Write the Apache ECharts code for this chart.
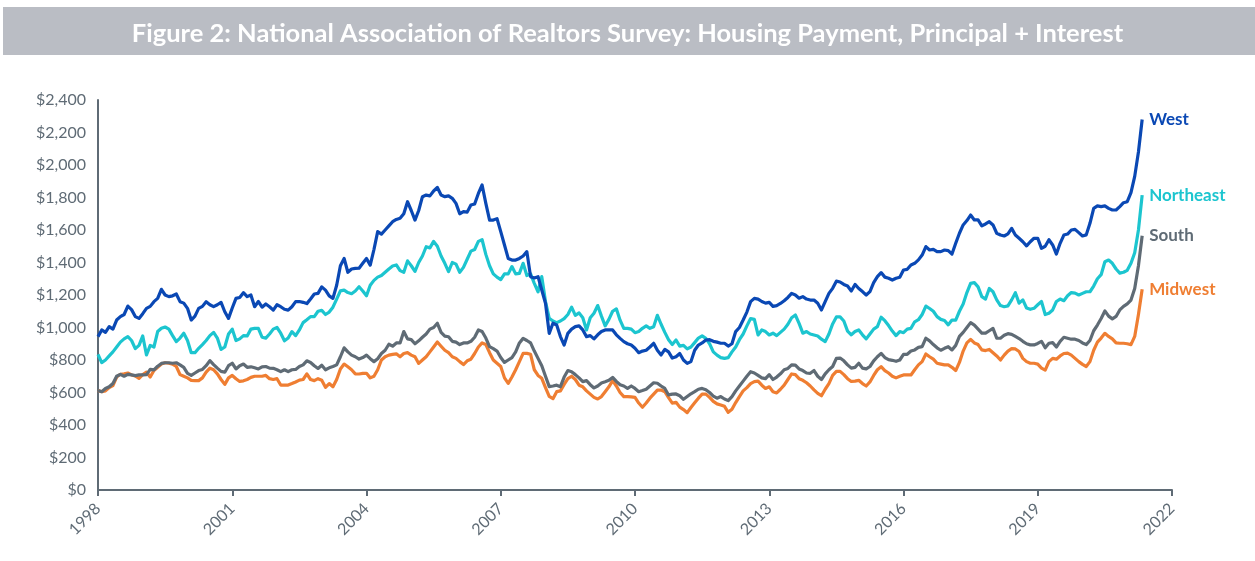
<!DOCTYPE html>
<html>
<head>
<meta charset="utf-8">
<script src="https://cdn.jsdelivr.net/npm/echarts@6/dist/echarts.min.js"></script>
<style>
  html, body { margin: 0; padding: 0; background: #ffffff; }
  #chart { width: 1255px; height: 561px; }
</style>
</head>
<body>
<div id="chart"></div>
<script>
// Monthly data, Jan 1998 .. May 2021 (index 0 = Jan 1998)
const tickYears = ['1998', '2001', '2004', '2007', '2010', '2013', '2016', '2019', '2022'];
const seriesNames = ['West', 'Northeast', 'South', 'Midwest'];

const west = [
  944, 985, 970, 1005, 990, 1046, 1067, 1080, 1132, 1110, 1067, 1056,
  1085, 1118, 1130, 1159, 1179, 1235, 1200, 1190, 1195, 1206, 1159, 1150,
  1118, 1046, 1070, 1118, 1130, 1159, 1140, 1128, 1140, 1155, 1097, 1056,
  1120, 1179, 1185, 1214, 1190, 1200, 1128, 1160, 1125, 1145, 1128, 1107,
  1140, 1128, 1112, 1107, 1128, 1159, 1160, 1155, 1147, 1175, 1206, 1210,
  1250, 1230, 1195, 1179, 1260, 1380, 1425, 1340, 1360, 1364, 1365, 1395,
  1425, 1384, 1480, 1590, 1575, 1600, 1625, 1651, 1665, 1672, 1700, 1774,
  1720, 1661, 1720, 1805, 1815, 1810, 1840, 1862, 1815, 1805, 1810, 1795,
  1764, 1700, 1713, 1710, 1754, 1760, 1825, 1877, 1764, 1661, 1661, 1670,
  1590, 1508, 1425, 1415, 1415, 1425, 1440, 1467, 1313, 1305, 1313, 1231,
  1149, 964, 1026, 1015, 944, 892, 964, 990, 1005, 1010, 985, 944,
  950, 930, 955, 975, 985, 985, 985, 955, 933, 913, 900, 892,
  872, 845, 855, 860, 880, 903, 860, 831, 865, 850, 812, 820,
  840, 800, 779, 790, 860, 892, 905, 923, 925, 915, 910, 903,
  903, 886, 900, 975, 1000, 1046, 1095, 1159, 1179, 1175, 1160, 1150,
  1155, 1130, 1135, 1148, 1165, 1185, 1210, 1200, 1180, 1190, 1175, 1169,
  1169, 1149, 1108, 1159, 1210, 1241, 1285, 1280, 1265, 1255, 1225, 1265,
  1240, 1221, 1200, 1221, 1276, 1313, 1338, 1310, 1303, 1292, 1303, 1309,
  1354, 1358, 1385, 1395, 1416, 1446, 1498, 1477, 1481, 1467, 1467, 1477,
  1473, 1452, 1518, 1580, 1631, 1658, 1692, 1662, 1662, 1625, 1637, 1651,
  1631, 1580, 1569, 1563, 1576, 1610, 1569, 1549, 1528, 1502, 1528, 1549,
  1549, 1487, 1500, 1540, 1508, 1452, 1518, 1569, 1575, 1600, 1604, 1584,
  1563, 1570, 1641, 1733, 1748, 1744, 1748, 1733, 1723, 1723, 1744, 1768,
  1774, 1830, 1930, 2080, 2280
];

const northeast = [
  835, 784, 800, 825, 850, 880, 910, 930, 944, 920, 870, 890,
  948, 831, 890, 880, 975, 995, 1003, 990, 950, 913, 935, 965,
  920, 845, 845, 872, 895, 920, 950, 970, 935, 865, 880, 960,
  990, 920, 930, 950, 948, 990, 995, 995, 940, 935, 960, 990,
  1000, 965, 918, 935, 975, 950, 985, 1030, 1048, 1067, 1067, 1100,
  1105, 1080, 1095, 1125, 1175, 1225, 1230, 1215, 1208, 1225, 1251, 1225,
  1195, 1260, 1290, 1310, 1320, 1340, 1360, 1378, 1385, 1350, 1340, 1410,
  1380, 1345, 1400, 1440, 1497, 1490, 1530, 1500, 1440, 1395, 1344, 1400,
  1390, 1340, 1370, 1420, 1470, 1480, 1530, 1540, 1450, 1380, 1330, 1310,
  1295, 1330, 1330, 1375, 1330, 1333, 1395, 1320, 1330, 1272, 1220, 1313,
  1160, 1056, 1040, 1030, 1040, 1055, 1080, 1125, 1075, 1090, 1060, 985,
  1060, 1088, 1135, 1070, 1010, 1050, 1100, 1115, 1045, 995, 995, 990,
  968, 975, 995, 1010, 995, 1005, 1075, 1020, 970, 925, 895, 923,
  885, 890, 868, 880, 907, 935, 948, 933, 900, 850, 830, 815,
  810, 815, 850, 880, 925, 960, 1010, 1055, 1050, 954, 985, 975,
  954, 965, 950, 970, 990, 1020, 1060, 1077, 1025, 965, 975, 960,
  954, 948, 928, 913, 960, 1022, 1065, 1065, 1040, 978, 955, 975,
  985, 955, 930, 960, 990, 1005, 1063, 1042, 1012, 978, 950, 975,
  968, 990, 995, 1035, 1048, 1080, 1132, 1117, 1100, 1067, 1050, 1043,
  1016, 1046, 1046, 1100, 1145, 1215, 1272, 1276, 1250, 1190, 1175, 1240,
  1220, 1170, 1135, 1128, 1133, 1170, 1214, 1150, 1170, 1120, 1112, 1118,
  1140, 1160, 1080, 1088, 1108, 1160, 1175, 1165, 1195, 1215, 1212, 1200,
  1210, 1220, 1220, 1255, 1300, 1325, 1405, 1415, 1395, 1360, 1335, 1340,
  1352, 1395, 1460, 1600, 1815
];

const south = [
  613, 605, 625, 635, 655, 700, 712, 700, 712, 708, 704, 708,
  708, 710, 742, 739, 762, 779, 783, 783, 780, 783, 770, 755,
  718, 705, 720, 735, 742, 765, 796, 772, 750, 730, 725, 765,
  780, 745, 765, 775, 755, 758, 752, 745, 758, 760, 750, 749,
  740, 728, 740, 728, 740, 742, 760, 770, 795, 785, 765, 748,
  768, 740, 752, 760, 770, 820, 875, 850, 830, 820, 806, 815,
  830, 808, 790, 808, 840, 860, 897, 885, 905, 905, 975, 930,
  925, 900, 918, 940, 960, 990, 1000, 1026, 970, 947, 943, 915,
  910, 895, 905, 905, 915, 940, 985, 975, 935, 882, 870, 855,
  815, 785, 800, 815, 850, 905, 933, 920, 905, 855, 810, 765,
  700, 636, 640, 645, 636, 695, 735, 728, 710, 690, 667, 673,
  648, 628, 640, 658, 666, 675, 693, 668, 648, 640, 625, 640,
  625, 605, 612, 620, 640, 660, 657, 640, 625, 585, 590, 591,
  580, 558, 575, 592, 605, 620, 625, 617, 600, 578, 565, 575,
  560, 550, 575, 610, 640, 670, 700, 728, 720, 705, 690, 685,
  710, 680, 695, 715, 740, 748, 770, 769, 745, 735, 720, 718,
  735, 700, 680, 715, 740, 760, 810, 812, 795, 770, 750, 755,
  780, 750, 745, 760, 795, 820, 841, 815, 802, 798, 792, 800,
  835, 835, 855, 862, 878, 882, 934, 918, 895, 875, 860, 872,
  882, 862, 890, 945, 970, 1000, 1030, 1015, 990, 965, 965, 980,
  995, 935, 934, 952, 962, 958, 945, 932, 915, 900, 893, 893,
  902, 915, 875, 903, 907, 880, 915, 940, 934, 928, 928, 920,
  905, 895, 920, 980, 1015, 1055, 1102, 1070, 1053, 1068, 1108, 1130,
  1145, 1169, 1240, 1380, 1565
];

const midwest = [
  613, 605, 610, 630, 642, 695, 712, 715, 720, 708, 702, 687,
  710, 725, 695, 735, 755, 775, 783, 780, 775, 760, 710, 700,
  690, 675, 673, 673, 690, 725, 750, 740, 715, 680, 650, 690,
  705, 685, 668, 672, 680, 693, 700, 700, 700, 705, 685, 680,
  685, 646, 646, 646, 655, 665, 676, 680, 715, 680, 673, 685,
  675, 632, 655, 635, 680, 745, 775, 758, 740, 715, 714, 718,
  718, 690, 700, 740, 800, 820, 830, 835, 838, 820, 840, 845,
  830, 820, 779, 800, 820, 850, 880, 911, 885, 860, 845, 820,
  810, 790, 772, 795, 805, 840, 880, 905, 895, 845, 800, 780,
  760, 690, 656, 695, 740, 790, 841, 841, 835, 740, 705, 687,
  630, 576, 562, 605, 610, 650, 685, 700, 680, 645, 635, 610,
  590, 570, 560, 575, 605, 635, 673, 640, 600, 575, 575, 573,
  570, 535, 509, 535, 565, 590, 615, 615, 605, 568, 535, 540,
  510, 495, 476, 508, 537, 565, 590, 590, 570, 545, 530, 523,
  515, 478, 497, 538, 575, 610, 630, 655, 667, 670, 645, 625,
  635, 605, 597, 620, 645, 680, 714, 710, 685, 675, 660, 640,
  616, 595, 580, 620, 655, 705, 730, 730, 710, 685, 668, 670,
  675, 655, 640, 665, 705, 740, 759, 735, 720, 700, 690, 700,
  708, 708, 708, 740, 770, 790, 837, 820, 805, 780, 775, 770,
  770, 755, 735, 785, 855, 905, 927, 905, 895, 862, 858, 865,
  845, 825, 800, 830, 855, 870, 868, 852, 810, 790, 780, 780,
  775, 750, 738, 790, 810, 805, 825, 840, 842, 830, 810, 790,
  773, 760, 790, 860, 910, 935, 964, 945, 930, 905, 903, 903,
  900, 895, 945, 1080, 1235
];

const seriesValues = [west, northeast, south, midwest];
const seriesColors = ['#0a48b4', '#1cc5cf', '#5f6b75', '#ef7e32'];
const MONTHS_PER_TICK = 36;

const chart = echarts.init(document.getElementById('chart'), null, { renderer: 'canvas' });

const series = seriesNames.map((name, k) => ({
  name: name,
  type: 'line',
  showSymbol: false,
  symbol: 'none',
  data: seriesValues[k].map((v, i) => [i, v]),
  lineStyle: { color: seriesColors[k], width: 3.2, join: 'round' },
  itemStyle: { color: seriesColors[k] },
  z: 10 - k,
  endLabel: {
    show: true,
    formatter: '{a}',
    color: seriesColors[k],
    fontFamily: 'Lato',
    fontWeight: 'bold',
    fontSize: 17,
    distance: 7
  },
  animation: false
}));

chart.setOption({
  animation: false,
  backgroundColor: '#ffffff',
  title: {
    text: 'Figure 2: National Association of Realtors Survey: Housing Payment, Principal + Interest',
    left: 'center',
    top: 16,
    textStyle: { color: '#ffffff', fontFamily: 'Lato', fontWeight: 'bold', fontSize: 25.5 }
  },
  graphic: [{
    type: 'rect',
    z: -1,
    shape: { x: 3, y: 7, width: 1252, height: 48 },
    style: { fill: '#babdc4' }
  }],
  grid: { left: 98, right: 83, top: 100, bottom: 71, containLabel: false },
  xAxis: {
    type: 'value',
    min: 0,
    max: (tickYears.length - 1) * MONTHS_PER_TICK,
    interval: MONTHS_PER_TICK,
    axisLine: { show: true, lineStyle: { color: '#5f6b75', width: 2 } },
    axisTick: { show: true, length: 6, lineStyle: { color: '#5f6b75', width: 2 } },
    splitLine: { show: false },
    axisLabel: {
      rotate: 45,
      margin: 16,
      color: '#5f6b75',
      fontFamily: 'Lato',
      fontSize: 16,
      formatter: v => tickYears[Math.round(v / MONTHS_PER_TICK)] || ''
    }
  },
  yAxis: {
    type: 'value',
    min: 0,
    max: 2400,
    interval: 200,
    axisLine: { show: true, lineStyle: { color: '#5f6b75', width: 2 } },
    axisTick: { show: false },
    splitLine: { show: false },
    axisLabel: {
      margin: 12,
      color: '#5f6b75',
      fontFamily: 'Lato',
      fontSize: 16,
      formatter: v => '$' + v.toLocaleString('en-US')
    }
  },
  series: series
});
</script>
</body>
</html>
